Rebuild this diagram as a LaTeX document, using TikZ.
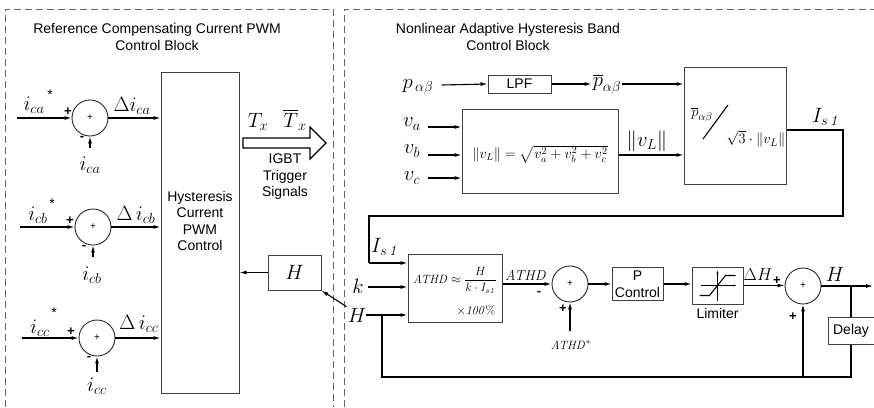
\documentclass[tikz,border=0pt]{standalone}
\usepackage{amsmath}
\usepackage[no-math]{fontspec}
\setmainfont{Liberation Sans}
\usetikzlibrary{arrows.meta}
\begin{document}
\begin{tikzpicture}[x=1pt,y=-1pt,>={Latex[length=7pt,width=4pt]},
	blk/.style={draw=black!75,line width=1pt,inner sep=0pt},
	sumnd/.style={draw=black!85,line width=0.9pt,circle,minimum size=36pt,inner sep=0pt,font=\fontsize{10}{10}\selectfont},
	lbl/.style={font=\fontsize{20}{22}\selectfont,inner sep=1pt},
	txt/.style={font=\fontsize{14}{16.5}\selectfont,align=center,inner sep=1pt},
	sgn/.style={font=\fontsize{13}{13}\selectfont\bfseries,inner sep=0pt},
	wire/.style={line width=1.1pt},
	frame/.style={draw=black!60,line width=0.9pt,dash pattern=on 7pt off 4pt}]
	\useasboundingbox (0,0) rectangle (874,407);
	%\draw[red] (0,0) rectangle (874,407);
	\draw[frame] (5,407) -- (5,9) -- (333,9) -- (333,407);
	\draw[frame] (344,407) -- (344,9) -- (874,9);
	\node[txt] (ttlL) at (157,37) {Reference Compensating Current PWM\\Control Block};
	\node[txt] (ttlR) at (508,37) {Nonlinear Adaptive Hysteresis Band\\Control Block};
	% current loops
	\node[blk,minimum width=78pt,minimum height=321pt] (hys) at (200,232.5) {};
	\node[txt] (hystxt) at (200,221) {Hysteresis\\Current\\PWM\\Control};
	\node[sumnd] (suma) at (90,118) {+};
	\node[sumnd] (sumb) at (93,227) {+};
	\node[sumnd] (sumc) at (97,338) {+};
	\coordinate (ina) at (17,118);
	\coordinate (inb) at (20,227);
	\coordinate (inc) at (22,338);
	\coordinate (ma) at (90,148);
	\coordinate (mb) at (93,257);
	\coordinate (mc) at (97,372);
	\draw[wire,->] (ina) -- (suma.west);
	\draw[wire,->] (inb) -- (sumb.west);
	\draw[wire,->] (inc) -- (sumc.west);
	\draw[wire,->] (ma) -- (suma.south);
	\draw[wire,->] (mb) -- (sumb.south);
	\draw[wire,->] (mc) -- (sumc.south);
	\draw[wire,->] (suma.east) -- (suma.east -| hys.west);
	\draw[wire,->] (sumb.east) -- (sumb.east -| hys.west);
	\draw[wire,->] (sumc.east) -- (sumc.east -| hys.west);
	\node[lbl] (icas) at (34,105) {$i_{ca}$};
	\node[lbl] (icbs) at (38,215) {$i_{cb}$};
	\node[lbl] (iccs) at (40,328) {$i_{cc}$};
	\node[txt] at (50,95) {*};
	\node[txt] at (52,204) {*};
	\node[txt] at (54,313) {*};
	\node[lbl] (ica) at (90,165) {$i_{ca}$};
	\node[lbl] (icb) at (92,275) {$i_{cb}$};
	\node[lbl] (icc) at (97,386) {$i_{cc}$};
	\node[lbl] (dica) at (132,106) {$\Delta i_{ca}$};
	\node[lbl] (dicb) at (136,215) {$\Delta\, i_{cb}$};
	\node[lbl] (dicc) at (139,324) {$\Delta\, i_{cc}$};
	\node[sgn] at (68,112) {+};
	\node[sgn] at (70,221) {+};
	\node[sgn] at (71,332) {+};
	\node[sgn] at (82,138) {-};
	\node[sgn] at (84,247) {-};
	\node[sgn] at (89,358) {-};
	% trigger signals
	\draw[wire,fill=white] (243,138) -- (310,138) -- (310,127) -- (326,143) -- (310,159) -- (310,148) -- (243,148) -- cycle;
	\node[lbl] (tx) at (258,122) {$T_x$};
	\node[lbl] (txb) at (295,120) {$\overline{T}_x$};
	\node[txt] (igbt) at (285,177) {IGBT\\Trigger\\Signals};
	\node[blk,lbl,minimum width=53pt,minimum height=35pt] (hbox) at (294.5,272.5) {$H$};
	\draw[wire,->] (hbox.west) -- (hbox.west -| hys.east);
	\node[lbl] (hin) at (357,315) {$H$};
	\draw[wire,->] (hin.north west) -- (hbox.south east);
	% power and voltage
	\node[blk,txt,minimum width=63pt,minimum height=18pt] (lpf) at (519.5,84) {LPF};
	\node[lbl] (pab) at (418,87) {$p_{\,\alpha\beta}$};
	\node[lbl] (pbar) at (607,84) {$\overline{p}_{\alpha\beta}$};
	\coordinate (pin) at (442,85);
	\draw[wire,->] (pin) -- (lpf.west);
	\draw[wire,->] (lpf.east) -- (lpf.east -| pbar.west);
	\node[blk,minimum width=156pt,minimum height=84pt] (norm) at (540,151) {};
	\node[font=\fontsize{14.5}{17}\selectfont,inner sep=0pt] (normf) at (540,154) {$\|v_L\|=\sqrt{v_a^2+v_b^2+v_c^2}$};
	\node[blk,minimum width=102pt,minimum height=117pt] (div) at (735,125.5) {};
	\draw[wire,->] (pbar.east) -- (pbar.east -| div.west);
	\node[font=\fontsize{15}{17}\selectfont] (divnum) at (702,115) {$\overline{p}_{\alpha\beta}$};
	\node[font=\fontsize{15}{17}\selectfont] (divden) at (756,139) {$\sqrt{3}\cdot\|v_L\|$};
	\draw[wire] (703,139) -- (728,105);
	\node[lbl] (va) at (412,124) {$v_a$};
	\node[lbl] (vb) at (412,151) {$v_b$};
	\node[lbl] (vc) at (412,178) {$v_c$};
	\coordinate (vain) at (428,127);
	\coordinate (vbin) at (428,155);
	\coordinate (vcin) at (428,178);
	\draw[wire,->] (vain) -- (vain -| norm.west);
	\draw[wire,->] (vbin) -- (vbin -| norm.west);
	\draw[wire,->] (vcin) -- (vcin -| norm.west);
	\draw[wire,->] (norm.east |- vbin) -- (vbin -| div.west);
	\node[lbl] (vl) at (647,141) {$\|v_L\|$};
	% band loop
	\coordinate (c1) at (843,130);
	\coordinate (c2) at (843,216);
	\coordinate (c3) at (369,216);
	\coordinate (c4) at (369,263);
	\node[lbl] (is1a) at (826,117) {$I_{s\,\mathit{1}}$};
	\node[lbl] (is1b) at (385,247) {$I_{s\,\mathit{1}}$};
	\node[blk,minimum width=94pt,minimum height=68pt] (athd) at (455,288) {};
	\node[font=\fontsize{12}{14}\selectfont,inner sep=0pt] (athdf) at (455,280) {$\mathit{ATHD}\approx\dfrac{H}{k\cdot I_{s\mathit{1}}}$};
	\node[font=\fontsize{12}{14}\selectfont] (athdp) at (476,310) {$\times\mathit{100\%}$};
	\draw[wire] (div.east |- c1) -- (c1) -- (c2) -- (c3) -- (c4);
	\draw[wire,->] (c4) -- (c4 -| athd.west);
	\node[lbl] (k) at (358,286) {$k$};
	\coordinate (kin) at (368,287);
	\coordinate (hin2) at (366,315);
	\draw[wire,->] (kin) -- (kin -| athd.west);
	\draw[wire,->] (hin2) -- (hin2 -| athd.west);
	\node[sumnd] (sumh) at (570,284) {+};
	\draw[wire,->] (athd.east |- sumh.west) -- (sumh.west);
	\node[font=\fontsize{14}{16}\selectfont,inner sep=0pt] (athdo) at (526,276) {$\mathit{ATHD}$};
	\node[sgn] at (539,293) {-};
	\node[font=\fontsize{13}{15}\selectfont] (athdr) at (571,345) {$\mathit{ATHD}^{*}$};
	\coordinate (rin) at (570,331);
	\draw[wire,->] (rin) -- (sumh.south);
	\node[sgn] at (563,309) {+};
	\node[blk,txt,minimum width=51pt,minimum height=33pt] (pc) at (637.5,284) {P\\Control};
	\node[blk,minimum width=51pt,minimum height=37pt] (lim) at (717.5,285.5) {};
	\node[txt] (limtxt) at (717.5,313) {Limiter};
	\draw[->,>={Latex[length=3pt,width=2pt]}] ([xshift=-17pt]lim.center) -- ([xshift=19pt]lim.center);
	\draw[->,>={Latex[length=3pt,width=2pt]}] ([yshift=-15pt]lim.center) -- ([yshift=15pt]lim.center);
	\draw[wire] ([xshift=-18pt,yshift=-10pt]lim.center) -- ([xshift=-8pt,yshift=-10pt]lim.center) -- ([xshift=8pt,yshift=10pt]lim.center) -- ([xshift=18pt,yshift=10pt]lim.center);
	\draw[wire,->] (sumh.east) -- (sumh.east -| pc.west);
	\draw[wire,->] (pc.east) -- (pc.east -| lim.west);
	\node[sumnd] (sum2) at (803,286) {+};
	\draw[wire,->] (lim.east) -- (lim.east -| sum2.west);
	\node[font=\fontsize{16}{18}\selectfont,inner sep=0pt] (dh) at (758,275) {$\Delta H$};
	\node[sgn] at (777,281) {+};
	\node[sgn] at (793,317) {+};
	\coordinate (hout) at (873,286);
	\draw[wire,->] (sum2.east) -- (hout);
	\node[lbl] (hlab) at (835,274) {$H$};
	\node[blk,txt,minimum width=46pt,minimum height=27pt] (dly) at (851,330.5) {Delay};
	\coordinate (d1) at (851,286);
	\coordinate (d2) at (851,377);
	\coordinate (hb1) at (382,315);
	\coordinate (hb2) at (382,377);
	\draw[wire] (d1) -- (dly.north);
	\draw[wire] (hb1) -- (hb2) -- (d2) -- (dly.south);
	\draw[wire,->] (sum2.south |- d2) -- (sum2.south);
\end{tikzpicture}
\end{document}
